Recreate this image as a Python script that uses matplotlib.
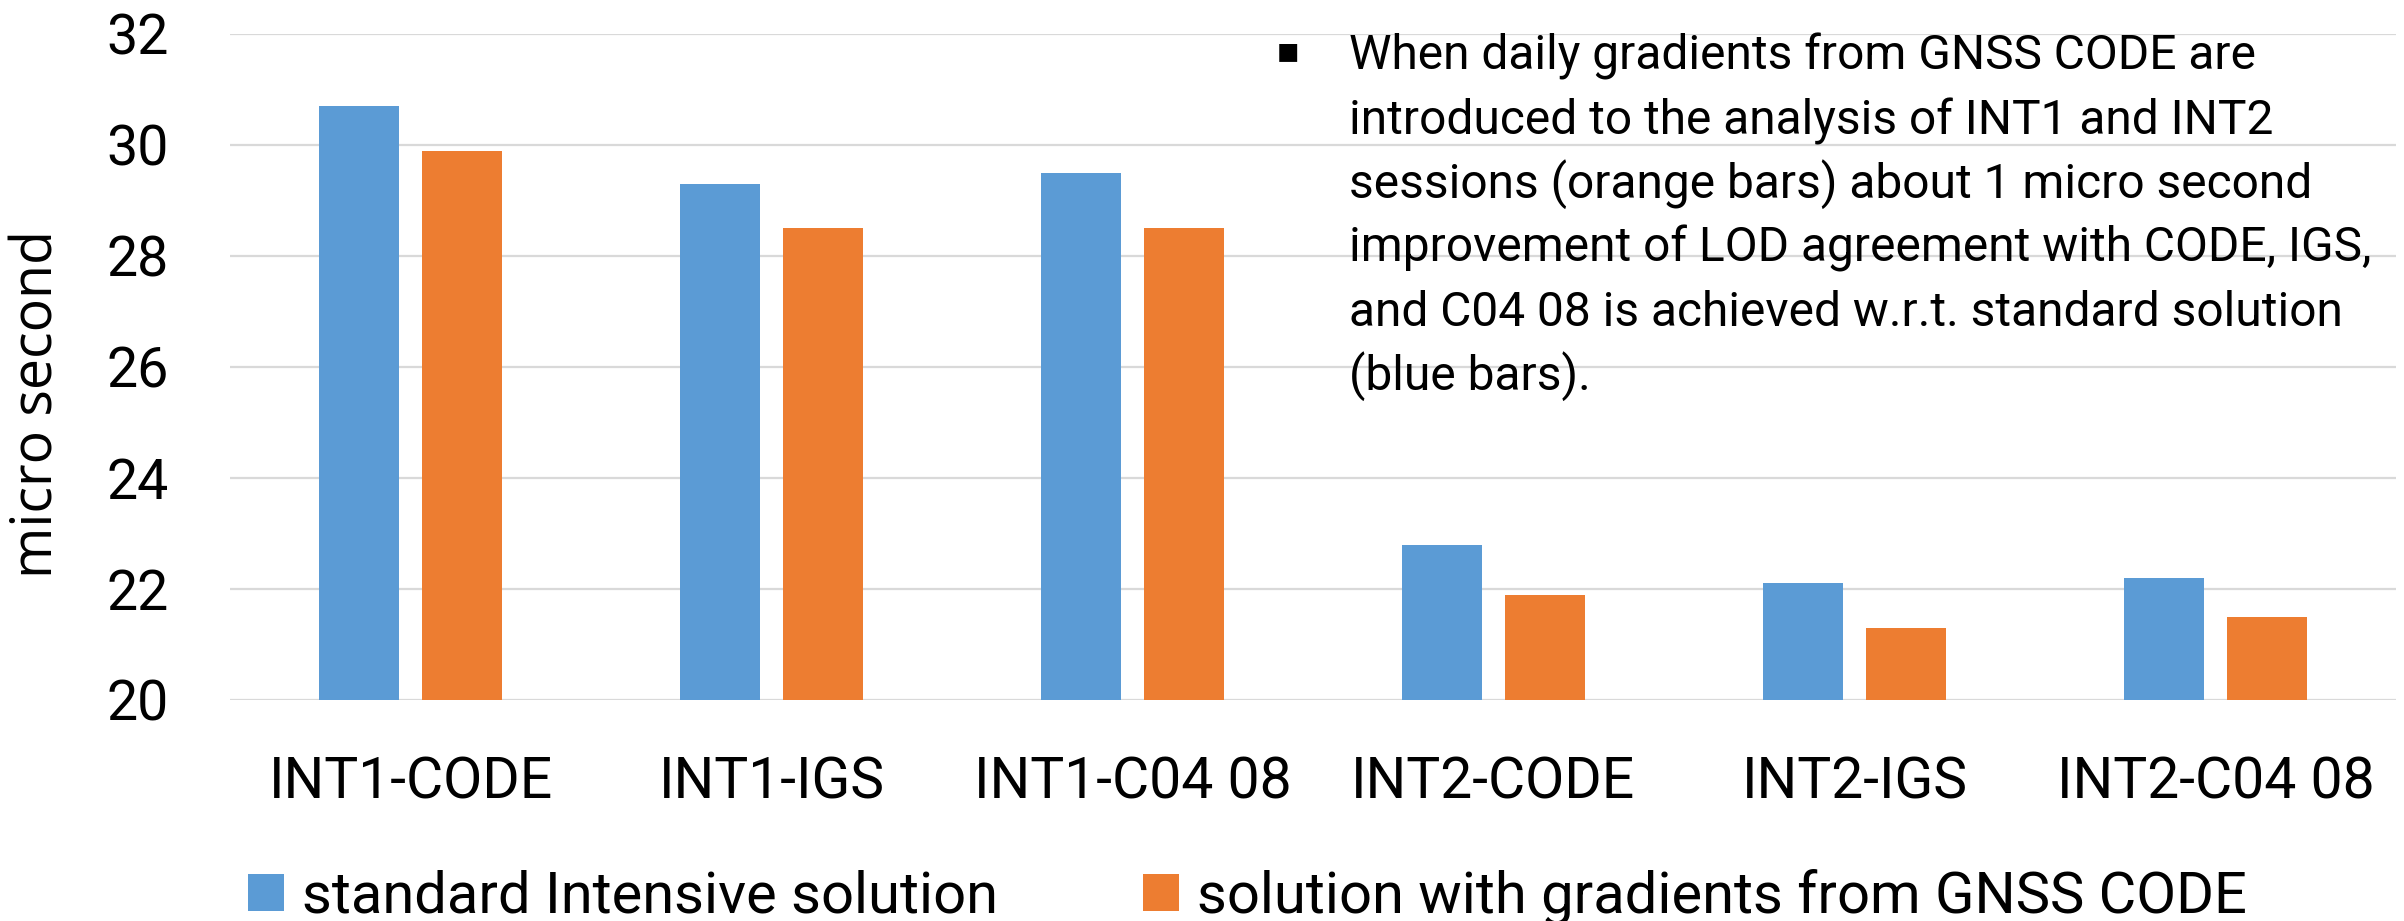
import matplotlib
matplotlib.use("Agg")
import matplotlib.pyplot as plt
import numpy as np

categories = ["INT1-CODE", "INT1-IGS", "INT1-C04 08", "INT2-CODE", "INT2-IGS", "INT2-C04 08"]
standard = [30.7, 29.3, 29.5, 22.8, 22.1, 22.2]
gradients = [29.9, 28.5, 28.5, 21.9, 21.3, 21.5]
series_names = ["standard Intensive solution", "solution with gradients from GNSS CODE"]
yticks = [20, 22, 24, 26, 28, 30, 32]
ylabel = "micro second"
note_lines = [
    "When daily gradients from GNSS CODE are",
    "introduced to the analysis of INT1 and INT2",
    "sessions (orange bars) about 1 micro second",
    "improvement of LOD agreement with CODE, IGS,",
    "and C04 08 is achieved w.r.t. standard solution",
    "(blue bars).",
]

BLUE = "#5B9BD5"
ORANGE = "#ED7D31"
GRID = "#D9D9D9"
W, H = 2404, 921
DPI = 100

plt.rcParams["font.family"] = ["Roboto", "DejaVu Sans"]

fig = plt.figure(figsize=(W / DPI, H / DPI), dpi=DPI)
ax = fig.add_axes([230 / W, 1 - 700 / H, (2396 - 230) / W, (700 - 34) / H])

x = np.arange(len(categories))
bw = 0.222
off = 0.143
b1 = ax.bar(x - off, standard, bw, color=BLUE, label=series_names[0], zorder=3)
b2 = ax.bar(x + off, gradients, bw, color=ORANGE, label=series_names[1], zorder=3)

ax.set_xlim(-0.5, len(categories) - 0.5)
ax.set_ylim(20, 32)
ax.set_yticks(yticks)
ax.set_yticklabels([str(t) for t in yticks], fontsize=40)
ax.set_xticks(x)
ax.set_xticklabels(categories, fontsize=41)
ax.tick_params(axis="y", length=0, pad=44)
ax.tick_params(axis="x", length=0, pad=40)
ax.grid(axis="y", color=GRID, linewidth=1.6, zorder=0)
ax.set_axisbelow(True)
for s in ax.spines.values():
    s.set_visible(False)

fig.text(38 / W, 1 - 404 / H, ylabel, rotation=90, ha="center", va="center",
         fontsize=40, family=["Open Sans", "DejaVu Sans"])

# note text
fig.text(1288 / W, 1 - 51 / H, "\u25AA", fontsize=26, ha="center", va="center",
         family=["DejaVu Sans"], color="black")
for i, line in enumerate(note_lines):
    fig.text(1349 / W, 1 - (70 + 64 * i) / H, line, fontsize=34.5, ha="left",
             va="baseline", color="black")

fig.legend(handles=[b1, b2], labels=series_names, loc="center left",
           bbox_to_anchor=(248 / W, 1 - 897 / H), ncol=2, frameon=False,
           fontsize=41.7, handlelength=0.62, handleheight=0.62,
           handletextpad=0.31, columnspacing=2.5, borderpad=0, borderaxespad=0)

fig.savefig("out.png", dpi=DPI)
